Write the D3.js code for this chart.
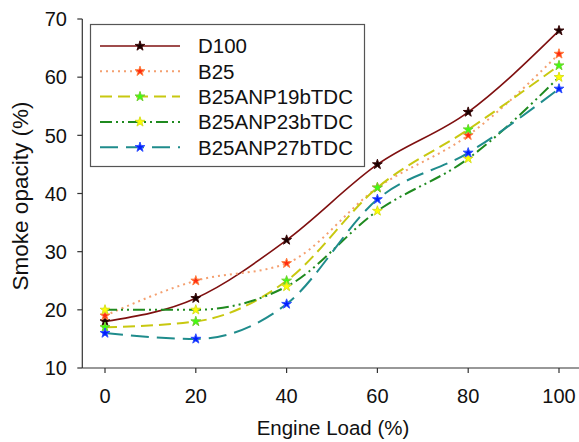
<!DOCTYPE html>
<html>
<head>
<meta charset="utf-8">
<script src="https://cdn.jsdelivr.net/npm/d3@7"></script>
<style>
    body { margin: 0; background: #fff; }
    svg { display: block; font-family: "Liberation Sans", Arial, sans-serif; }
</style>
</head>
<body>
<svg id="chart" width="579" height="442"></svg>
<script>
var loads = [0, 20, 40, 60, 80, 100];
var seriesNames = ["D100", "B25", "B25ANP19bTDC", "B25ANP23bTDC", "B25ANP27bTDC"];
var d100 = [18, 22, 32, 45, 54, 68];
var b25 = [19, 25, 28, 41, 50, 64];
var anp19 = [17, 18, 25, 41, 51, 62];
var anp23 = [20, 20, 24, 37, 46, 60];
var anp27 = [16, 15, 21, 39, 47, 58];
var xTicks = [0, 20, 40, 60, 80, 100];
var yTicks = [10, 20, 30, 40, 50, 60, 70];

var styles = [
    { line: "#7f1010", dash: null, width: 1.6, fill: "#1a0000", stroke: "#3a0a0a" },
    { line: "#f4a070", dash: "2,4", width: 2, fill: "#ff2a10", stroke: "#ff8040" },
    { line: "#c8c810", dash: "12,6", width: 2, fill: "#40ff10", stroke: "#70d030" },
    { line: "#1f8a1f", dash: "12,4,2,4,2,4", width: 2, fill: "#ffff00", stroke: "#d8e020" },
    { line: "#1f8c8c", dash: "18,8", width: 2, fill: "#0020ff", stroke: "#3050ff" }
];

var allValues = [d100, b25, anp19, anp23, anp27];

var svg = d3.select("#chart");

var x = d3.scaleLinear().domain([-5, 105]).range([82.3, 581.7]),
    y = d3.scaleLinear().domain([10, 70]).range([368, 19]);

var axisColor = "#333";

// axes lines
svg.append("line")
    .attr("x1", x(-5)).attr("x2", 579)
    .attr("y1", y(10)).attr("y2", y(10))
    .attr("stroke", axisColor).attr("stroke-width", 1.2);
svg.append("line")
    .attr("x1", x(-5)).attr("x2", x(-5))
    .attr("y1", y(70)).attr("y2", y(10))
    .attr("stroke", axisColor).attr("stroke-width", 1.2);

// x ticks
var xt = svg.append("g").selectAll("g")
    .data(xTicks)
    .enter().append("g");
xt.append("line")
    .attr("x1", function(d) { return x(d); })
    .attr("x2", function(d) { return x(d); })
    .attr("y1", y(10)).attr("y2", y(10) + 5)
    .attr("stroke", axisColor).attr("stroke-width", 1.2);
xt.append("text")
    .attr("x", function(d) { return x(d); })
    .attr("y", 403)
    .attr("text-anchor", "middle")
    .attr("font-size", "20px")
    .attr("fill", "#111")
    .text(function(d) { return d; });

// y ticks
var yt = svg.append("g").selectAll("g")
    .data(yTicks)
    .enter().append("g");
yt.append("line")
    .attr("x1", x(-5) - 5).attr("x2", x(-5))
    .attr("y1", function(d) { return y(d); })
    .attr("y2", function(d) { return y(d); })
    .attr("stroke", axisColor).attr("stroke-width", 1.2);
yt.append("text")
    .attr("x", 67)
    .attr("y", function(d) { return y(d); })
    .attr("dy", "0.36em")
    .attr("text-anchor", "end")
    .attr("font-size", "20px")
    .attr("fill", "#111")
    .text(function(d) { return d; });

// axis titles
svg.append("text")
    .attr("x", 333)
    .attr("y", 435)
    .attr("text-anchor", "middle")
    .attr("font-size", "20.5px")
    .attr("fill", "#111")
    .text("Engine Load (%)");

svg.append("text")
    .attr("transform", "translate(28,196) rotate(-90)")
    .attr("text-anchor", "middle")
    .attr("font-size", "22.5px")
    .attr("fill", "#111")
    .text("Smoke opacity (%)");

// series
var line = d3.line()
    .x(function(d) { return x(d[0]); })
    .y(function(d) { return y(d[1]); })
    .curve(d3.curveMonotoneX);

var star = d3.symbol().type(d3.symbolStar).size(30);

allValues.forEach(function(vals, i) {
    var pts = loads.map(function(l, j) { return [l, vals[j]]; });
    var s = styles[i];
    svg.append("path")
        .attr("d", line(pts))
        .attr("fill", "none")
        .attr("stroke", s.line)
        .attr("stroke-width", s.width)
        .attr("stroke-dasharray", s.dash);
    svg.append("g").selectAll("path")
        .data(pts)
        .enter().append("path")
        .attr("transform", function(d) { return "translate(" + x(d[0]) + "," + y(d[1]) + ")"; })
        .attr("d", star)
        .attr("fill", s.fill)
        .attr("stroke", s.stroke)
        .attr("stroke-width", 1);
});

// legend
var legend = svg.append("g");
legend.append("rect")
    .attr("x", 90.5).attr("y", 24.5)
    .attr("width", 274).attr("height", 142)
    .attr("fill", "#fff")
    .attr("stroke", "#555")
    .attr("stroke-width", 1.2);

var rows = legend.selectAll(".row")
    .data(seriesNames)
    .enter().append("g")
    .attr("class", "row")
    .attr("transform", function(d, i) { return "translate(0," + (46 + i * 25.3) + ")"; });
rows.append("line")
    .attr("x1", 100).attr("x2", 180)
    .attr("stroke", function(d, i) { return styles[i].line; })
    .attr("stroke-width", function(d, i) { return styles[i].width; })
    .attr("stroke-dasharray", function(d, i) { return styles[i].dash; });
rows.append("path")
    .attr("transform", "translate(140,0)")
    .attr("d", star)
    .attr("fill", function(d, i) { return styles[i].fill; })
    .attr("stroke", function(d, i) { return styles[i].stroke; })
    .attr("stroke-width", 1);
rows.append("text")
    .attr("x", 198)
    .attr("dy", "0.36em")
    .attr("font-size", "20.5px")
    .attr("fill", "#111")
    .text(function(d) { return d; });
</script>
</body>
</html>
